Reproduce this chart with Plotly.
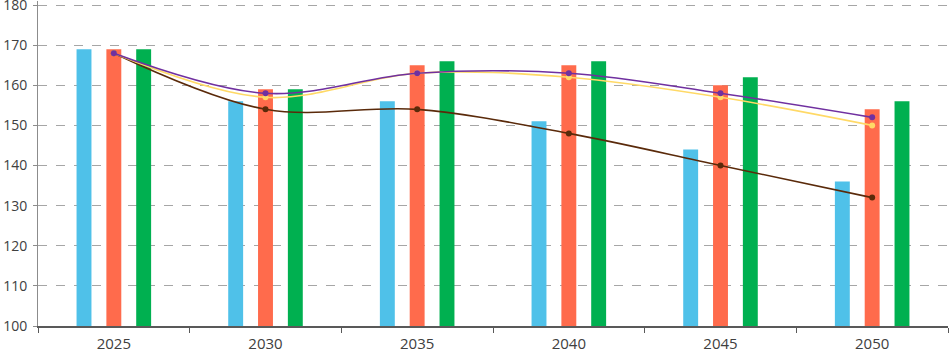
import plotly.graph_objects as go

years = ["2025", "2030", "2035", "2040", "2045", "2050"]
bar_blue = [169, 156, 156, 151, 144, 136]
bar_red = [169, 159, 165, 165, 160, 154]
bar_green = [169, 159, 166, 166, 162, 156]
line_brown = [168, 154, 154, 148, 140, 132]
line_yellow = [168, 157, 163, 162, 157, 150]
line_purple = [168, 158, 163, 163, 158, 152]
y_ticks = [100, 110, 120, 130, 140, 150, 160, 170, 180]

fig = go.Figure()
for vals, col in [(bar_blue, "#4FC1E9"), (bar_red, "#FF6B4C"), (bar_green, "#00B050")]:
    fig.add_trace(go.Bar(x=years, y=vals, marker=dict(color=col, line=dict(width=0)),
                         showlegend=False))
for vals, col in [(line_brown, "#5A2A0A"), (line_yellow, "#FFD966"), (line_purple, "#7030A0")]:
    fig.add_trace(go.Scatter(x=years, y=vals, mode="lines+markers",
                             line=dict(color=col, width=1.6, shape="spline", smoothing=1.0),
                             marker=dict(color=col, size=6), showlegend=False))

fig.update_layout(
    width=950, height=353,
    margin=dict(l=38, r=2, t=1, b=27, autoexpand=False),
    plot_bgcolor="white", paper_bgcolor="white",
    barmode="group", bargap=0.41, bargroupgap=0.5,
    font=dict(family="Open Sans", size=15, color="#404040"),
    xaxis=dict(type="category", showline=True, linecolor="#595959", linewidth=1.5,
               ticks="outside", tickson="boundaries", ticklen=5, tickcolor="#595959",
               showgrid=False, tickfont=dict(size=15), automargin=False,
               ticklabelstandoff=3, ticklabeloverflow="allow"),
    yaxis=dict(range=[100, 181], tickvals=y_ticks, showline=True, linecolor="#8c8c8c",
               linewidth=1, showgrid=True, gridcolor="#a6a6a6", griddash="dash",
               gridwidth=1, ticks="outside", ticklen=4, tickcolor="#8c8c8c",
               zeroline=False, tickfont=dict(size=14), automargin=False,
               ticklabelstandoff=3, ticklabeloverflow="allow"),
)
fig.write_html("out.html", config={"displayModeBar": False},
               post_script="document.body.style.margin='0';document.body.style.padding='0';")
